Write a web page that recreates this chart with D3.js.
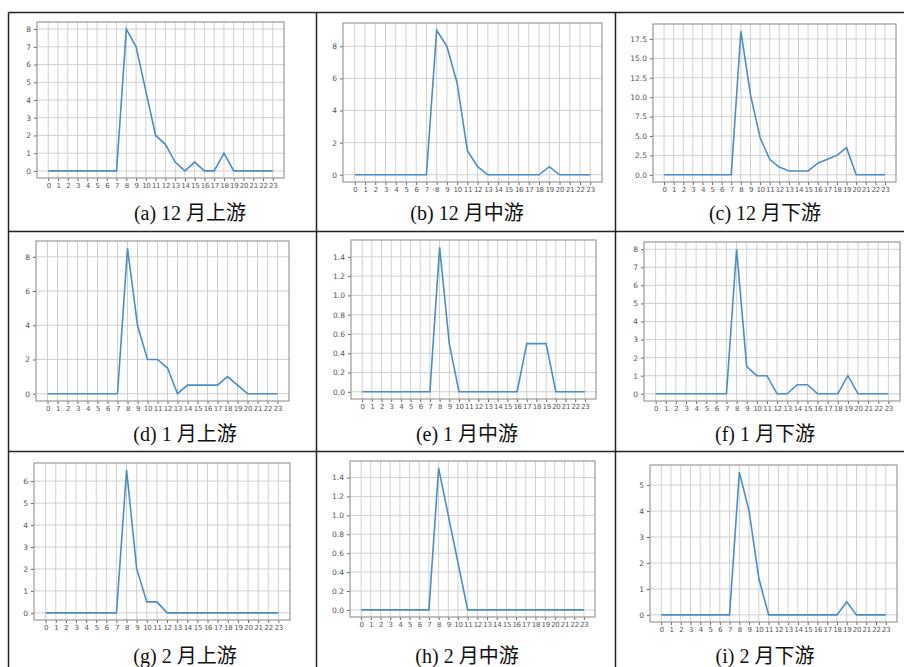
<!DOCTYPE html>
<html>
<head>
<meta charset="utf-8">
<script src="https://cdn.jsdelivr.net/npm/d3@7"></script>
<style>
  body { margin: 0; background: #fff; }
  svg text { font-family: "DejaVu Sans", sans-serif; }
</style>
</head>
<body>
<svg id="chart" width="904" height="667"></svg>
<script>
// hours of the day
const hours = d3.range(0, 24);

// one series per panel
const decUp  = [0,0,0,0,0,0,0,0, 8, 7, 4.5, 2, 1.5, 0.5, 0, 0.5, 0, 0, 1, 0, 0,0,0,0];
const decMid = [0,0,0,0,0,0,0,0, 9, 8, 5.7, 1.5, 0.5, 0, 0, 0, 0, 0, 0, 0.5, 0,0,0,0];
const decLow = [0,0,0,0,0,0,0,0, 18.5, 10.3, 4.8, 2, 1, 0.5, 0.5, 0.5, 1.5, 2, 2.5, 3.5, 0,0,0,0];
const janUp  = [0,0,0,0,0,0,0,0, 8.5, 4, 2, 2, 1.5, 0, 0.5, 0.5, 0.5, 0.5, 1, 0.5, 0,0,0,0];
const janMid = [0,0,0,0,0,0,0,0, 1.5, 0.5, 0, 0, 0, 0, 0, 0, 0, 0.5, 0.5, 0.5, 0,0,0,0];
const janLow = [0,0,0,0,0,0,0,0, 8, 1.5, 1, 1, 0, 0, 0.5, 0.5, 0, 0, 0, 1, 0,0,0,0];
const febUp  = [0,0,0,0,0,0,0,0, 6.5, 2, 0.5, 0.5, 0, 0, 0, 0, 0, 0, 0, 0, 0,0,0,0];
const febMid = [0,0,0,0,0,0,0,0, 1.5, 1, 0.5, 0, 0, 0, 0, 0, 0, 0, 0, 0, 0,0,0,0];
const febLow = [0,0,0,0,0,0,0,0, 5.5, 4, 1.4, 0, 0, 0, 0, 0, 0, 0, 0, 0.5, 0,0,0,0];

const series = [decUp, decMid, decLow, janUp, janMid, janLow, febUp, febMid, febLow];
const titles = ["(a) 12 月上游", "(b) 12 月中游", "(c) 12 月下游",
                "(d) 1 月上游", "(e) 1 月中游", "(f) 1 月下游",
                "(g) 2 月上游", "(h) 2 月中游", "(i) 2 月下游"];
const yTickSteps = [1, 2, 2.5, 2, 0.2, 1, 1, 0.2, 1];

// layout of the table and of each axes box (pixels)
const colX = [8.5, 316.5, 615.5, 904];
const rowY = [12.5, 231.5, 451.5, 667];
const boxes = [
  [37, 22, 284, 178], [343, 23, 602, 182], [653, 24, 896, 182],
  [36, 241, 289, 401], [351, 240, 596, 399], [644, 242, 900, 401],
  [34, 463, 290, 620], [350, 461, 595, 617], [650, 465, 897, 622]
];
const titleY = [220, 220, 220, 441, 441, 441, 663, 663, 663];
const titleX = [190, 467, 765, 185, 467, 765, 185, 467, 765];

const svg = d3.select('#chart');

// table lines
const table = svg.append('g').attr('stroke', '#222').attr('stroke-width', 1.5);
table.append('line').attr('x1', colX[0]).attr('x2', 904).attr('y1', rowY[0]).attr('y2', rowY[0]);
[rowY[1], rowY[2]].forEach(y => {
  table.append('line').attr('x1', colX[0]).attr('x2', 904).attr('y1', y).attr('y2', y);
});
[colX[0], colX[1], colX[2]].forEach(x => {
  table.append('line').attr('x1', x).attr('x2', x).attr('y1', rowY[0]).attr('y2', 667);
});

series.forEach((vals, i) => {
  const [l, t, r, b] = boxes[i];
  const maxV = d3.max(vals);
  const pad = maxV * 0.05;
  const x = d3.scaleLinear().domain([-1.15, 24.15]).range([l, r]);
  const y = d3.scaleLinear().domain([-pad, maxV + pad]).range([b, t]);
  const step = yTickSteps[i];
  const yTicks = d3.range(0, maxV + 1e-9, step);

  const g = svg.append('g');

  // grid
  g.append('g').selectAll('line').data(hours).join('line')
    .attr('x1', d => x(d)).attr('x2', d => x(d))
    .attr('y1', t).attr('y2', b)
    .attr('stroke', '#d0d0d0').attr('stroke-width', 1);
  g.append('g').selectAll('line').data(yTicks).join('line')
    .attr('x1', l).attr('x2', r)
    .attr('y1', d => y(d)).attr('y2', d => y(d))
    .attr('stroke', '#d0d0d0').attr('stroke-width', 1);

  // axes
  const fmt = (step % 1 === 0) ? d3.format('d') : d3.format('.1f');
  const xAxis = g.append('g').attr('transform', `translate(0,${b})`)
    .call(d3.axisBottom(x).tickValues(hours).tickSize(3).tickPadding(2).tickFormat(d3.format('d')));
  const yAxis = g.append('g').attr('transform', `translate(${l},0)`)
    .call(d3.axisLeft(y).tickValues(yTicks).tickSize(3).tickPadding(3).tickFormat(fmt));
  [xAxis, yAxis].forEach(a => {
    a.select('.domain').remove();
    a.selectAll('line').attr('stroke', '#666');
    a.selectAll('text').attr('fill', '#555');
  });
  xAxis.selectAll('text').style('font-size', '7px').style('letter-spacing', '-0.3px');
  yAxis.selectAll('text').style('font-size', '7.5px');

  // frame
  g.append('rect')
    .attr('x', l).attr('y', t).attr('width', r - l).attr('height', b - t)
    .attr('fill', 'none').attr('stroke', '#999').attr('stroke-width', 1.2);

  // line
  g.append('path').datum(vals)
    .attr('fill', 'none')
    .attr('stroke', '#4a8ec8')
    .attr('stroke-width', 1.6)
    .attr('d', d3.line().x((d, k) => x(hours[k])).y(d => y(d)));

  // caption
  svg.append('text')
    .attr('x', titleX[i]).attr('y', titleY[i])
    .attr('text-anchor', 'middle')
    .style('font-family', '"Liberation Serif", "Noto Sans CJK SC", serif')
    .style('font-size', '20px')
    .attr('fill', '#111')
    .text(titles[i]);
});
</script>
</body>
</html>
